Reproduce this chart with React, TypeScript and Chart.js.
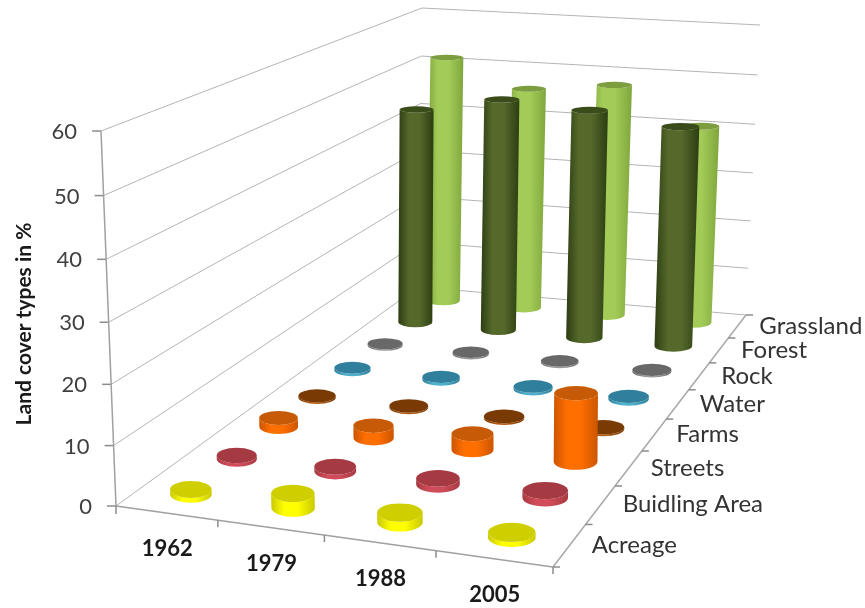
import React, { useEffect, useRef } from "react";
import { Chart, registerables } from "chart.js";

Chart.register(...registerables);

// Survey years and land-cover classes (front to back along the depth axis)
const years = ["1962", "1979", "1988", "2005"];
const coverTypes = ["Acreage", "Buidling Area", "Streets", "Farms", "Water", "Rock", "Forest", "Grassland"];
const valueTicks = { min: 0, max: 60, step: 10 };

// Share of each land-cover class in percent, per survey year
const acreage = [0.8, 2.4, 1.6, 0.8];
const buildingArea = [0.6, 0.8, 1, 1.2];
const streets = [1.6, 2.2, 2.8, 11.8];
const farms = [0.3, 0.3, 0.3, 0.3];
const water = [0.5, 0.5, 0.5, 0.5];
const rock = [0.3, 0.3, 0.3, 0.3];
const forest = [43.2, 46.2, 45.2, 43.2];
const grassland = [51.2, 45.8, 47.6, 40.4];

const seriesValues = [acreage, buildingArea, streets, farms, water, rock, forest, grassland];

// [shaded edge, lit side, top cap]
const seriesColors = [
  ["#c9c900", "#ffff00", "#cfcf00"],
  ["#a83a42", "#d04c5a", "#a53a42"],
  ["#cc5500", "#ff6f00", "#c75a06"],
  ["#7a3800", "#b05a10", "#7a3a04"],
  ["#2f7f99", "#4db0cc", "#307f9c"],
  ["#6a6a6a", "#999999", "#686868"],
  ["#2c3d12", "#55692b", "#3a4c1a"],
  ["#7fa63c", "#a2cb58", "#7d9e3e"],
];

const FONT = "Lato, 'Open Sans', sans-serif";

// Box corners on the canvas: floor A-B-C-D, and the full-height offset above each one
const FRAME = {
  floor: [[116, 506], [553, 567], [746, 315], [418, 287]],
  rise: [[-15, -375], [0, -395], [14, -290], [4, -279]],
};
const CAP_RADIUS = { u: 0.052, v: 0.029 };
// Foreshortening of the height axis: lower levels sit slightly closer together
const HEIGHT_WARP = 0.04;

function solve(m: number[][], r: number[]): number[] {
  const n = r.length;
  const a = m.map((row, i) => [...row, r[i]]);
  for (let i = 0; i < n; i++) {
    let p = i;
    for (let k = i + 1; k < n; k++) if (Math.abs(a[k][i]) > Math.abs(a[p][i])) p = k;
    [a[i], a[p]] = [a[p], a[i]];
    for (let k = 0; k < n; k++) {
      if (k === i) continue;
      const f = a[k][i] / a[i][i];
      for (let j = i; j <= n; j++) a[k][j] -= f * a[i][j];
    }
  }
  return a.map((row, i) => row[n] / row[i]);
}

// Perspective floor plus a height offset blended between the four corners
function makeCamera() {
  const uv = [[0, 0], [1, 0], [1, 1], [0, 1]];
  const M: number[][] = [];
  const R: number[] = [];
  FRAME.floor.forEach(([x, y], i) => {
    const [u, v] = uv[i];
    M.push([u, v, 1, 0, 0, 0, -u * x, -v * x]);
    R.push(x);
    M.push([0, 0, 0, u, v, 1, -u * y, -v * y]);
    R.push(y);
  });
  const h = solve(M, R);
  const { rise } = FRAME;
  return (u: number, v: number, z: number): [number, number] => {
    const w = h[6] * u + h[7] * v + 1;
    const zw = z * (1 - HEIGHT_WARP * (1 - z));
    const blend = (k: number) =>
      (1 - u) * (1 - v) * rise[0][k] + u * (1 - v) * rise[1][k] + u * v * rise[2][k] + (1 - u) * v * rise[3][k];
    return [
      (h[0] * u + h[1] * v + h[2]) / w + zw * blend(0),
      (h[3] * u + h[4] * v + h[5]) / w + zw * blend(1),
    ];
  };
}

function cylinder(
  ctx: CanvasRenderingContext2D,
  project: (u: number, v: number, z: number) => [number, number],
  u: number,
  v: number,
  z: number,
  colors: string[]
) {
  const radii = (zz: number) => {
    const du = project(u + 0.01, v, 0)[0] - project(u - 0.01, v, 0)[0];
    const dv = project(u, v + 0.01, 0)[1] - project(u, v - 0.01, 0)[1];
    // caps flatten towards eye level as the cylinder gets taller
    return [(Math.abs(du) / 0.02) * CAP_RADIUS.u, (Math.abs(dv) / 0.02) * CAP_RADIUS.v * (1 - 0.5 * zz)];
  };
  const [bx, by] = project(u, v, 0);
  const [tx, ty] = project(u, v, z);
  const [brx, bry] = radii(0);
  const [trx, try_] = radii(z);

  const left = Math.min(bx - brx, tx - trx);
  const right = Math.max(bx + brx, tx + trx);
  const g = ctx.createLinearGradient(left, 0, right, 0);
  g.addColorStop(0, colors[0]);
  g.addColorStop(0.3, colors[1]);
  g.addColorStop(0.6, colors[1]);
  g.addColorStop(1, colors[0]);

  ctx.beginPath();
  ctx.moveTo(tx - trx, ty);
  ctx.lineTo(bx - brx, by);
  ctx.ellipse(bx, by, brx, bry, 0, Math.PI, 0, true);
  ctx.lineTo(tx + trx, ty);
  ctx.ellipse(tx, ty, trx, try_, 0, 0, Math.PI, false);
  ctx.closePath();
  ctx.fillStyle = g;
  ctx.fill();

  ctx.beginPath();
  ctx.ellipse(tx, ty, trx, try_, 0, 0, Math.PI * 2);
  ctx.fillStyle = colors[2];
  ctx.fill();
}

// Draws the box, its axes and the cylinders through the chart's x, depth and y scales
const box3d = {
  id: "box3d",
  afterDatasetsDraw(chart: any) {
    const { ctx, chartArea, scales } = chart;
    const project = makeCamera();
    const uOf = (i: number) => (scales.x.getPixelForValue(i) - chartArea.left) / chartArea.width;
    const vOf = (i: number) => (scales.depth.getPixelForValue(i) - chartArea.left) / chartArea.width;
    const zOf = (val: number) => (chartArea.bottom - scales.y.getPixelForValue(val)) / chartArea.height;

    const seg = (a: [number, number], b: [number, number], color: string, width: number) => {
      ctx.beginPath();
      ctx.moveTo(a[0], a[1]);
      ctx.lineTo(b[0], b[1]);
      ctx.strokeStyle = color;
      ctx.lineWidth = width;
      ctx.stroke();
    };

    ctx.save();

    // Wall gridlines and value axis
    const ticks = scales.y.ticks.map((t: any) => t.value);
    ticks.forEach((val: number) => {
      const z = zOf(val);
      const a = project(0, 0, z);
      seg(a, project(0, 1, z), "#b4b4b4", 1);
      seg(project(0, 1, z), project(1, 1, z), "#b4b4b4", 1);
      seg([a[0] - 9, a[1]], a, "#8c8c8c", 1.5);
      ctx.font = `22px ${FONT}`;
      ctx.fillStyle = "#404040";
      ctx.textAlign = "right";
      ctx.textBaseline = "middle";
      ctx.fillText(String(val), a[0] - 24, a[1] + 1);
    });
    seg(project(0, 0, 0), project(0, 0, 1), "#a0a0a0", 1.5);

    // Floor edges
    const front0 = project(0, 0, 0);
    const front1 = project(1, 0, 0);
    const back1 = project(1, 1, 0);
    seg(front0, front1, "#a0a0a0", 1.5);
    seg(front1, back1, "#a8a8a8", 1.5);
    seg([front0[0], front0[1]], [front0[0], front0[1] + 8], "#8c8c8c", 1.5);

    // Year ticks and labels along the front edge
    years.forEach((label, i) => {
      const p = project((i + 1) / years.length, 0, 0);
      seg(p, [p[0], p[1] + 7], "#8c8c8c", 1.5);
      const c = project(uOf(i), 0, 0);
      ctx.font = `bold 22px ${FONT}`;
      ctx.fillStyle = "#1a1a1a";
      ctx.textAlign = "center";
      ctx.textBaseline = "middle";
      ctx.fillText(label, c[0] + 1, c[1] + 36);
    });

    // Class ticks and labels along the right edge
    coverTypes.forEach((label, i) => {
      const p = project(1, (i + 1) / coverTypes.length, 0);
      seg(p, [p[0] + 7, p[1]], "#8c8c8c", 1.5);
      const c = project(1, vOf(i), 0);
      ctx.font = `24px ${FONT}`;
      ctx.fillStyle = "#333333";
      ctx.textAlign = "left";
      ctx.textBaseline = "middle";
      ctx.fillText(label, c[0] + 22, c[1]);
    });
    seg(front1, [front1[0] + 7, front1[1]], "#8c8c8c", 1.5);

    // Value axis title
    ctx.save();
    ctx.translate(24, 324);
    ctx.rotate(-Math.PI / 2);
    ctx.font = `bold 21px ${FONT}`;
    ctx.fillStyle = "#1a1a1a";
    ctx.textAlign = "center";
    ctx.textBaseline = "middle";
    ctx.fillText("Land cover types in %", 0, 0);
    ctx.restore();

    // Cylinders, painted from the back row to the front row
    for (let d = chart.data.datasets.length - 1; d >= 0; d--) {
      const ds = chart.data.datasets[d];
      ds.data.forEach((val: number, i: number) => {
        cylinder(ctx, project, uOf(i), vOf(d), zOf(val), seriesColors[d]);
      });
    }
    ctx.restore();
  },
};

export default function App() {
  const ref = useRef<HTMLCanvasElement>(null);
  useEffect(() => {
    const chart = new Chart(ref.current as HTMLCanvasElement, {
      type: "line",
      data: {
        labels: years,
        datasets: coverTypes.map((label, d) => ({
          label,
          data: seriesValues[d],
          showLine: false,
          pointRadius: 0,
          backgroundColor: seriesColors[d][1],
        })),
      },
      options: {
        responsive: false,
        animation: false,
        layout: { padding: 0 },
        plugins: { legend: { display: false }, tooltip: { enabled: false } },
        scales: {
          x: { type: "category", offset: true, display: false },
          depth: { type: "category", axis: "x", labels: coverTypes, offset: true, display: false },
          y: {
            type: "linear",
            min: valueTicks.min,
            max: valueTicks.max,
            ticks: { stepSize: valueTicks.step },
            display: false,
          },
        },
      },
      plugins: [box3d],
    } as any);
    return () => chart.destroy();
  }, []);
  return (
    <div style={{ position: "fixed", left: 0, top: 0, width: 865, height: 608, background: "#fff" }}>
      <canvas ref={ref} width={865} height={608} style={{ display: "block" }} />
    </div>
  );
}
